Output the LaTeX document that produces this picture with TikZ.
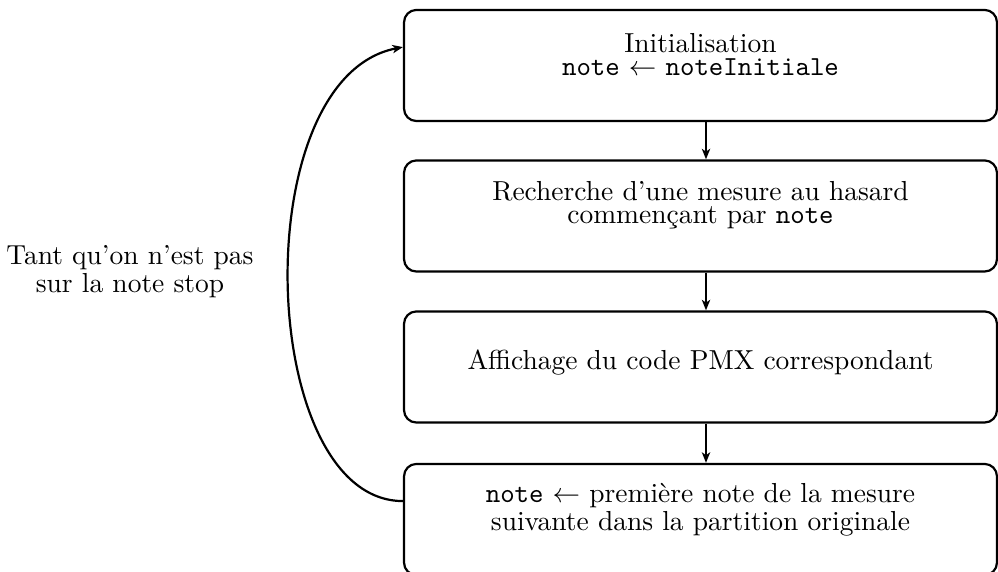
\documentclass[tikz,border=0pt]{standalone}
\usepackage{fontspec}
\usetikzlibrary{arrows.meta}
\tikzset{
  stepbox/.style={draw, thick, rounded corners=4.5pt, minimum width=215.6pt, minimum height=40.4pt, inner sep=0pt},
  steptext/.style={align=center, inner sep=0pt},
  flow/.style={thick, -{Stealth[length=3.8pt,width=3pt,inset=1pt]}},
}
\begin{document}
\begin{tikzpicture}[x=0.3636pt, y=-0.3636pt]
\useasboundingbox (0,0) rectangle (998,572);
\node[stepbox] (b1) at (700.5,65.5) {};
\node[stepbox] (b2) at (700.5,216) {};
\node[stepbox] (b3) at (700.5,367) {};
\node[stepbox] (b4) at (700.5,519.5) {};
\node[steptext] (t1) at ([yshift=4.1pt]b1.center) {Initialisation\\[-3.6pt]\texttt{note} $\leftarrow$ \texttt{noteInitiale}};
\node[steptext] (t2) at ([yshift=4pt]b2.center) {Recherche d'une mesure au hasard\\[-3.6pt]commençant par \texttt{note}};
\node[steptext] (t3) at ([yshift=1.8pt]b3.center) {Affichage du code PMX correspondant};
\node[steptext] (t4) at ([yshift=3.5pt]b4.center) {\texttt{note} $\leftarrow$ première note de la mesure\\[-2pt]suivante dans la partition originale};
\node[steptext] (lab) at (130,272) {Tant qu'on n'est pas\\[-1.8pt]sur la note stop};
\draw[flow] ([xshift=2pt]b1.south) -- ([xshift=2pt]b2.north);
\draw[flow] ([xshift=2pt]b2.south) -- ([xshift=2pt]b3.north);
\draw[flow] ([xshift=2pt]b3.south) -- ([xshift=2pt]b4.north);
\draw[flow] ([yshift=6.7pt]b4.west) .. controls +(-146,0) and +(-159,31) .. ([yshift=6.7pt]b1.west);
\end{tikzpicture}
\end{document}
